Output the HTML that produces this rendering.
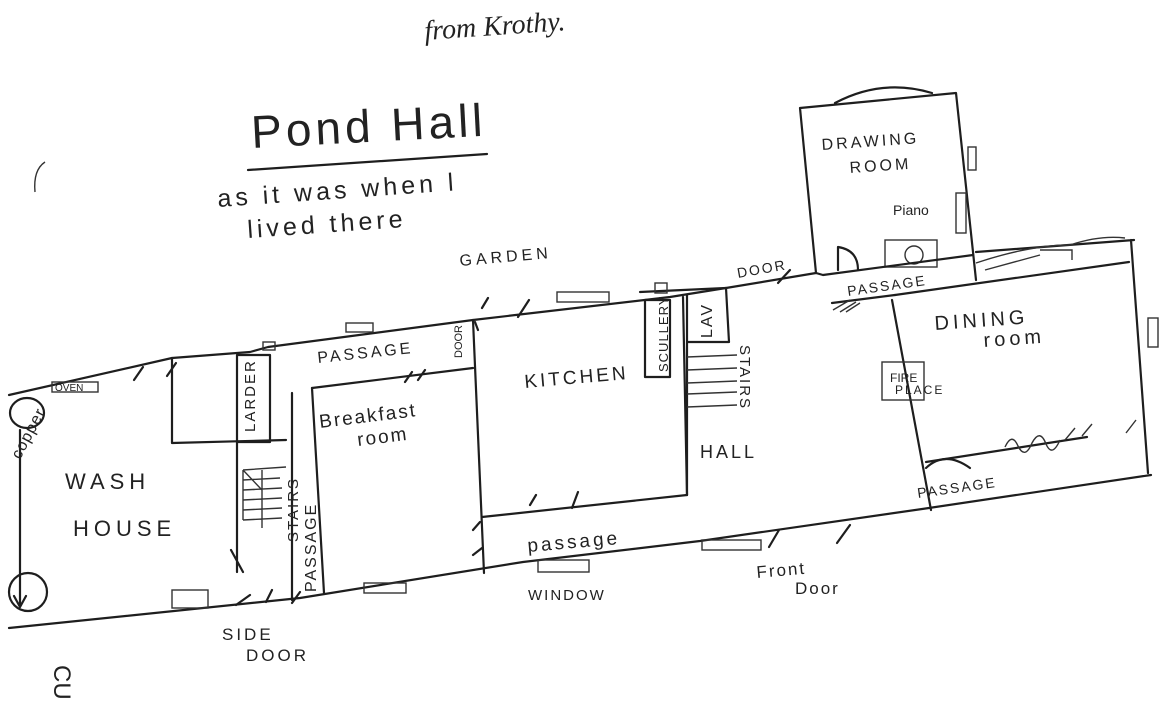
<!DOCTYPE html>
<html><head><meta charset="utf-8"><style>
html,body{margin:0;padding:0;background:#fff;}
svg{display:block;}
text{font-family:"Liberation Sans",sans-serif;fill:#222;}
.l{stroke:#1e1e1e;stroke-width:2.2;fill:none;stroke-linecap:round;stroke-linejoin:round;}
.t{stroke:#333;stroke-width:1.4;fill:none;}
</style></head><body>
<svg width="1167" height="724" viewBox="0 0 1167 724" xmlns="http://www.w3.org/2000/svg">
<rect width="1167" height="724" fill="#fff"/>
<!-- header texts -->
<text x="425" y="40" font-family="Liberation Serif" font-style="italic" font-size="28" transform="rotate(-4 425 40)" style="font-family:'Liberation Serif',serif">from Krothy.</text>
<text x="252" y="148" font-size="46" letter-spacing="4" transform="rotate(-3 252 148)">Pond Hall</text>
<path class="l" d="M248 170 L487 154"/>
<text x="218" y="207" font-size="25" letter-spacing="4" transform="rotate(-4 218 207)">as it was  when l</text>
<text x="248" y="238" font-size="25" letter-spacing="4" transform="rotate(-4 248 238)">lived there</text>
<path class="t" d="M45 162 Q33 170 35 192"/>

<!-- main top wall -->
<path class="l" d="M9 395 L172 358 L250 352 L268 347 L473 320 L670 297 L726 288 L816 273"/>
<path class="l" d="M640 292 L726 288"/>
<!-- bottom wall -->
<path class="l" d="M9 628 L300 598 L523 562 L700 541 L929 508 L1151 475"/>
<!-- left wall -->
<ellipse class="l" cx="27" cy="413" rx="17" ry="15"/>
<circle class="l" cx="28" cy="592" r="19"/>
<path class="l" d="M20 430 L20 607 M14 596 L20 607 L26 596"/>
<!-- oven -->
<rect class="t" x="52" y="382" width="46" height="10"/>
<text x="55" y="391" font-size="10">OVEN</text>
<path class="l" d="M134 380 L143 367 M167 376 L176 363"/>
<!-- box near larder -->
<path class="l" d="M172 358 L172 443 L286 440"/>
<!-- larder -->
<rect class="l" x="237" y="355" width="33" height="87"/>
<text x="0" y="0" font-size="15" letter-spacing="2" transform="translate(255 432) rotate(-90)">LARDER</text>
<rect class="t" x="263" y="342" width="12" height="8"/>
<!-- stairs near larder -->
<path class="l" d="M237 442 L237 572 M231 550 L243 572"/>
<path class="t" d="M243 470 L286 467 M243 470 L243 520 M243 480 L280 478 M243 490 L282 488 M243 500 L282 498 M243 510 L282 508 M243 520 L282 518 M262 470 L262 528 M243 470 L262 490"/>
<!-- passage strip -->
<path class="l" d="M292 393 L292 600 M312 388 L324 593"/>
<path class="l" d="M312 388 L473 368"/>
<text x="0" y="0" font-size="15" letter-spacing="2" transform="translate(298 542) rotate(-90)">STAIRS</text>
<text x="0" y="0" font-size="16" letter-spacing="2" transform="translate(316 592) rotate(-90)">PASSAGE</text>
<text x="318" y="363" font-size="16" letter-spacing="3" transform="rotate(-6 318 363)">PASSAGE</text>
<text x="0" y="0" font-size="11" transform="translate(462 358) rotate(-90)">DOOR</text>
<rect class="t" x="346" y="323" width="27" height="9"/>
<path class="l" d="M405 382 L412 372 M418 380 L425 370"/>
<text x="320" y="428" font-size="19" letter-spacing="2" transform="rotate(-7 320 428)">Breakfast</text>
<text x="358" y="446" font-size="19" letter-spacing="2" transform="rotate(-7 358 446)">room</text>
<!-- kitchen -->
<path class="l" d="M473 320 L484 573"/>
<path class="l" d="M482 517 L687 495"/>
<path class="l" d="M683 297 L687 495"/>
<path class="l" d="M473 555 L482 548 M473 530 L480 522 M530 505 L536 495 M572 508 L578 492 M478 330 L475 322"/>
<rect class="t" x="557" y="292" width="52" height="10"/>
<path class="l" d="M518 317 L529 300 M482 308 L488 298"/>
<rect class="l" x="645" y="300" width="25" height="77"/>
<rect class="t" x="655" y="283" width="12" height="10"/>
<text x="0" y="0" font-size="13" letter-spacing="1" transform="translate(668 372) rotate(-90)">SCULLERY</text>
<text x="525" y="388" font-size="19" letter-spacing="3" transform="rotate(-5 525 388)">KITCHEN</text>
<text x="528" y="552" font-size="19" letter-spacing="3" transform="rotate(-5 528 552)">passage</text>
<rect class="t" x="538" y="560" width="51" height="12" fill="#fff"/>
<rect class="t" x="364" y="583" width="42" height="10" fill="#fff"/>
<rect class="t" x="172" y="590" width="36" height="18" fill="#fff"/>
<path class="l" d="M236 605 L250 595 M266 602 L272 590 M292 603 L300 592"/>
<text x="528" y="600" font-size="15" letter-spacing="2">WINDOW</text>
<text x="222" y="640" font-size="17" letter-spacing="3">SIDE</text>
<text x="246" y="661" font-size="17" letter-spacing="3">DOOR</text>
<!-- hall -->
<path class="l" d="M687 295 L687 495 M726 288 L729 342 M687 342 L729 342"/>
<path class="t" d="M687 357 L737 355 M687 370 L737 368 M687 383 L737 381 M687 394 L737 392 M687 407 L737 405"/>
<text x="0" y="0" font-size="16" letter-spacing="2" transform="translate(712 338) rotate(-90)">LAV</text>
<text x="0" y="0" font-size="15" letter-spacing="2" transform="translate(740 345) rotate(90)">STAIRS</text>
<text x="700" y="458" font-size="18" letter-spacing="3">HALL</text>
<path class="l" d="M778 283 L790 270"/>
<text x="738" y="278" font-size="14" letter-spacing="2" transform="rotate(-10 738 278)">DOOR</text>
<rect class="t" x="702" y="540" width="59" height="10" fill="#fff"/>
<path class="l" d="M769 547 L779 530 M837 543 L850 525"/>
<text x="757" y="578" font-size="17" letter-spacing="2" transform="rotate(-5 757 578)">Front</text>
<text x="795" y="594" font-size="17" letter-spacing="2">Door</text>
<!-- drawing room -->
<path class="l" d="M800 108 L816 273 M800 108 L956 93 L976 280 M835 103 Q882 78 932 93"/>
<rect class="t" x="968" y="147" width="8" height="23"/>
<rect class="t" x="956" y="193" width="10" height="40"/>
<text x="822" y="150" font-size="16" letter-spacing="3" transform="rotate(-4 822 150)">DRAWING</text>
<text x="850" y="173" font-size="16" letter-spacing="3" transform="rotate(-4 850 173)">ROOM</text>
<text x="893" y="215" font-size="14">Piano</text>
<rect class="t" x="885" y="240" width="52" height="27"/>
<circle class="t" cx="914" cy="255" r="9"/>
<path class="l" d="M838 270 L838 247 Q858 250 858 270"/>
<path class="l" d="M823 275 L973 255 M832 303 L895 295 M816 273 L823 275"/>
<text x="848" y="296" font-size="14" letter-spacing="2" transform="rotate(-8 848 296)">PASSAGE</text>
<path class="t" d="M833 310 L850 300 M840 312 L856 302 M846 312 L860 303"/>
<!-- dining room -->
<path class="l" d="M895 295 L1129 262 M976 252 L1134 240 M1131 240 L1148 473 M892 300 L931 510"/>
<rect class="t" x="1148" y="318" width="10" height="29"/>
<path class="t" d="M976 263 Q1030 245 1070 245 Q1100 235 1125 238 M985 270 L1040 255 M1040 250 L1072 250 L1072 260"/>
<rect class="t" x="882" y="362" width="42" height="38"/>
<text x="890" y="382" font-size="12">FIRE</text>
<text x="895" y="394" font-size="12" letter-spacing="2">PLACE</text>
<text x="935" y="330" font-size="20" letter-spacing="4" transform="rotate(-4 935 330)">DINING</text>
<text x="984" y="347" font-size="20" letter-spacing="4" transform="rotate(-4 984 347)">room</text>
<path class="l" d="M926 462 L1087 437"/>
<path class="t" d="M1005 447 Q1012 432 1018 446 Q1025 460 1032 443 Q1040 428 1046 444 Q1052 458 1060 440 M1065 440 L1075 428 M1082 436 L1092 424 M1126 433 L1136 420"/>
<path class="l" d="M926 468 Q945 450 970 468"/>
<text x="918" y="498" font-size="14" letter-spacing="2" transform="rotate(-8 918 498)">PASSAGE</text>
<!-- bottom left -->
<text x="0" y="0" font-size="24" transform="translate(54 665) rotate(90)">CU</text>
<text x="0" y="0" font-size="16" letter-spacing="1" transform="translate(20 460) rotate(-62)">copper</text>
<text x="460" y="266" font-size="16" letter-spacing="4" transform="rotate(-5 460 266)">GARDEN</text>
<text x="65" y="489" font-size="22" letter-spacing="5">WASH</text>
<text x="73" y="536" font-size="22" letter-spacing="5">HOUSE</text>
</svg>
</body></html>
